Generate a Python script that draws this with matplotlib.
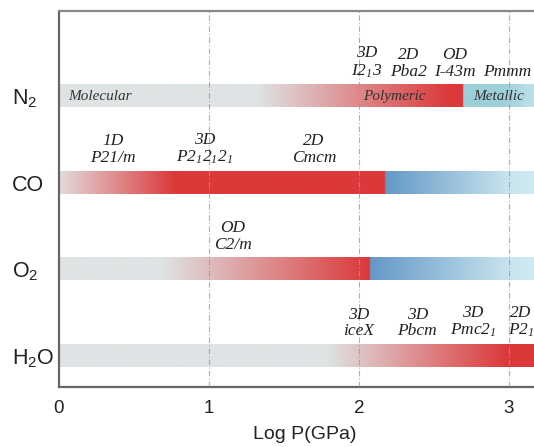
import numpy as np
import matplotlib.pyplot as plt
from matplotlib.colors import to_rgb

plt.rcParams['mathtext.default'] = 'regular'

molecules = ["N$_2$", "CO", "O$_2$", "H$_2$O"]
rows = [4, 3, 2, 1]

# colour stops along Log P for each bar
n2_stops = [(0.0, "grey"), (1.32, "grey"), (2.6, "red"), (2.69, "red"),
            (2.691, "metal"), (2.95, "metal"), (3.2, "metal2")]
co_stops = [(0.0, "pale"), (0.77, "red"), (2.17, "red"), (2.171, "blue"),
            (3.0, "ice"), (3.2, "ice2")]
o2_stops = [(0.0, "grey"), (0.69, "grey"), (2.07, "red"), (2.071, "blue"),
            (3.0, "ice"), (3.2, "ice2")]
h2o_stops = [(0.0, "grey"), (1.78, "grey"), (2.99, "red"), (3.2, "red")]

# phase labels above bars (Log P, text)
n2_phases = [(2.05, "3D\nI2$_1$3"), (2.33, "2D\nPba2"), (2.64, "OD\nI-43m"), (2.99, "Pmmm")]
co_phases = [(0.36, "1D\nP21/m"), (0.97, "3D\nP2$_1$2$_1$2$_1$"), (1.70, "2D\nCmcm")]
o2_phases = [(1.16, "OD\nC2/m")]
h2o_phases = [(2.0, "3D\niceX"), (2.39, "3D\nPbcm"), (2.76, "3D\nPmc2$_1$"), (3.08, "2D\nP2$_1$")]

n2_regimes = [(0.06, "Molecular"), (2.03, "Polymeric"), (2.76, "Metallic")]

palette = {"grey": "#dfe3e4", "pale": "#e3dcdd", "red": "#dc383a",
           "metal": "#9dcfda", "metal2": "#c4e4eb",
           "blue": "#6498c6", "ice": "#c8e5ef", "ice2": "#d2ebf3"}

xmax = 3.167
bar_h = 0.255

fig = plt.figure(figsize=(5.34, 4.47), dpi=100)
ax = fig.add_axes([0.110, 0.134, 0.89, 0.841])

xs = np.linspace(0, xmax, 1200)
for y, stops in zip(rows, [n2_stops, co_stops, o2_stops, h2o_stops]):
    sx = np.array([s[0] for s in stops])
    sc = np.array([to_rgb(palette[s[1]]) for s in stops])
    img = np.stack([np.interp(xs, sx, sc[:, k]) for k in range(3)], axis=-1)
    ax.imshow(img[None, :, :], extent=(0, xmax, y - bar_h / 2, y + bar_h / 2),
              aspect='auto', interpolation='bilinear', zorder=2)

label_font = dict(family='Liberation Serif', style='italic', fontsize=12.5,
                  ha='center', va='bottom', linespacing=1.08, color='#222222')
for y, phases in zip(rows, [n2_phases, co_phases, o2_phases, h2o_phases]):
    for x, t in phases:
        ax.text(x, y + 0.19, t, zorder=4, **label_font)

for x, t in n2_regimes:
    ax.text(x, 4, t, family='Liberation Serif', style='italic', fontsize=11,
            ha='left', va='center', color='#333333', zorder=4)

for x in [1, 2, 3]:
    ax.axvline(x, color='#9a9a9a', lw=0.8, linestyle=(0, (5, 2, 1, 2)), zorder=3, alpha=0.8)

ax.set_xlim(0, xmax)
ax.set_ylim(0.64, 4.98)
ax.set_xticks([0, 1, 2, 3])
ax.set_xticklabels(["0", "1", "2", "3"], family='Liberation Sans', fontsize=13.5,
                   color='#222222')
ax.set_yticks(rows)
ax.set_yticklabels(molecules, family='Liberation Sans', fontsize=15.5, ha='left',
                   color='#222222')
ax.tick_params(axis='both', length=0)
ax.tick_params(axis='x', pad=9)
ax.tick_params(axis='y', pad=34)
ax.set_xlabel("Log P(GPa)", family='Liberation Sans', fontsize=14, color='#222222')
ax.xaxis.set_label_coords(0.518, -0.103)

ax.spines['right'].set_visible(False)
for s in ['left', 'bottom']:
    ax.spines[s].set_color('#666666')
    ax.spines[s].set_linewidth(1.6)
ax.spines['top'].set_color('#888888')
ax.spines['top'].set_linewidth(1.6)

fig.savefig("out.png", dpi=100)
